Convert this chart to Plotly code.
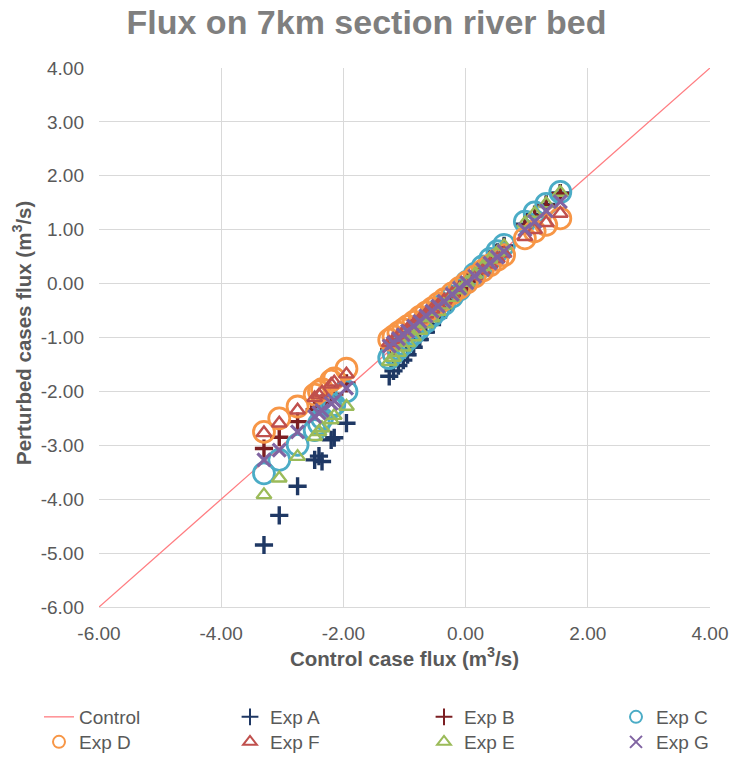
import plotly.graph_objects as go

# Control-case flux on the 7 km river-bed section (m3/s), shared by every experiment
control_x = [
    -3.30, -3.05, -2.75, -2.47, -2.40, -2.35, -2.20, -2.15, -1.95,
    -1.25, -1.18, -1.10, -1.02, -0.95, -0.85, -0.75, -0.65, -0.55, -0.45,
    -0.35, -0.22, -0.10, 0.02, 0.15, 0.28, 0.40, 0.52, 0.63,
    0.97, 1.13, 1.32, 1.55,
]

# Perturbed-case flux for each experiment (m3/s)
exp_a = [
    -4.85, -4.30, -3.76, -3.27, -3.20, -3.30, -2.90, -2.86, -2.59,
    -1.72, -1.62, -1.52, -1.42, -1.32, -1.18, -1.04, -0.90, -0.76, -0.62,
    -0.48, -0.30, -0.14, 0.02, 0.18, 0.32, 0.45, 0.58, 0.70,
    1.10, 1.28, 1.47, 1.68,
]
exp_b = [
    -3.06, -2.85, -2.56, -2.34, -2.28, -2.22, -2.10, -2.05, -1.85,
    -1.22, -1.15, -1.07, -0.99, -0.92, -0.83, -0.73, -0.63, -0.54, -0.44,
    -0.34, -0.22, -0.10, 0.02, 0.16, 0.29, 0.42, 0.55, 0.67,
    1.08, 1.26, 1.45, 1.67,
]
exp_c = [
    -3.52, -3.27, -2.99, -2.72, -2.60, -2.50, -2.30, -2.25, -2.00,
    -1.38, -1.30, -1.21, -1.12, -1.04, -0.93, -0.82, -0.71, -0.60, -0.49,
    -0.38, -0.24, -0.11, 0.03, 0.18, 0.32, 0.46, 0.60, 0.72,
    1.15, 1.32, 1.48, 1.70,
]
exp_d = [
    -2.75, -2.50, -2.28, -2.06, -2.00, -1.96, -1.80, -1.76, -1.58,
    -1.04, -0.98, -0.91, -0.85, -0.79, -0.71, -0.62, -0.54, -0.46, -0.37,
    -0.29, -0.18, -0.08, 0.02, 0.13, 0.24, 0.34, 0.44, 0.53,
    0.84, 0.97, 1.09, 1.21,
]
exp_f = [
    -2.77, -2.59, -2.35, -2.12, -2.07, -2.02, -1.87, -1.83, -1.68,
    -1.10, -1.04, -0.97, -0.90, -0.84, -0.75, -0.66, -0.57, -0.48, -0.40,
    -0.31, -0.19, -0.09, 0.02, 0.14, 0.25, 0.36, 0.46, 0.56,
    0.87, 1.00, 1.13, 1.30,
]
exp_e = [
    -3.92, -3.61, -3.21, -2.84, -2.75, -2.68, -2.53, -2.45, -2.28,
    -1.45, -1.37, -1.28, -1.18, -1.10, -0.99, -0.87, -0.75, -0.64, -0.52,
    -0.40, -0.26, -0.12, 0.02, 0.17, 0.31, 0.45, 0.58, 0.70,
    1.12, 1.30, 1.48, 1.69,
]
exp_g = [
    -3.27, -3.09, -2.75, -2.47, -2.40, -2.35, -2.22, -2.17, -1.94,
    -1.16, -1.10, -1.02, -0.95, -0.88, -0.79, -0.70, -0.60, -0.51, -0.42,
    -0.33, -0.20, -0.09, 0.02, 0.14, 0.26, 0.38, 0.49, 0.60,
    1.00, 1.15, 1.35, 1.52,
]

# 1:1 reference line
line_x = [-6.0, 4.0]
line_y = [-6.0, 4.0]

# Axis ticks
x_ticks = [-6, -4, -2, 0, 2, 4]
x_tick_text = ["-6.00", "-4.00", "-2.00", "0.00", "2.00", "4.00"]
y_ticks = [-6, -5, -4, -3, -2, -1, 0, 1, 2, 3, 4]
y_tick_text = ["-6.00", "-5.00", "-4.00", "-3.00", "-2.00", "-1.00",
               "0.00", "1.00", "2.00", "3.00", "4.00"]

FONT = "Liberation Sans, Arial, sans-serif"
TEXT_GREY = "#595959"
GRID = "#D9D9D9"
W, H = 733, 759
MARGIN = dict(l=99, r=23, t=68, b=152)

# name, values, symbol, size, line width, colour, legend slot (column, row)
series = [
    ("Exp A", exp_a, "cross-thin-open", 13, 3.4, "#1F3864", (1, 0)),
    ("Exp B", exp_b, "cross-thin-open", 13, 3.4, "#7B1E22", (2, 0)),
    ("Exp C", exp_c, "circle-open", 21, 2.8, "#4BACC6", (3, 0)),
    ("Exp D", exp_d, "circle-open", 21, 2.8, "#F79646", (0, 1)),
    ("Exp F", exp_f, "triangle-up-open", 13, 2.4, "#C0504D", (1, 1)),
    ("Exp E", exp_e, "triangle-up-open", 13, 2.4, "#9BBB59", (2, 1)),
    ("Exp G", exp_g, "x-thin-open", 13, 3.2, "#8064A2", (3, 1)),
]

# Legend grid: 4 columns x 2 rows below the chart (pixel positions of the entry text)
legend_text_x = [79, 270, 464, 656]
legend_row_y = [717, 742]


def legend_box(col, row, sizing):
    return dict(
        xref="container", yref="container",
        x=(legend_text_x[col] - 40) / W, xanchor="left",
        y=1 - legend_row_y[row] / H, yanchor="middle",
        bgcolor="rgba(0,0,0,0)", borderwidth=0,
        itemsizing=sizing,
        font=dict(family=FONT, size=19, color=TEXT_GREY),
    )


fig = go.Figure()
fig.add_trace(go.Scatter(
    x=line_x, y=line_y, mode="lines", name="Control",
    line=dict(color="#FF7C80", width=1.3), legend="legend",
))
legend_layout = {"legend": legend_box(0, 0, "trace")}
for i, (name, ys, symbol, size, lw, color, (col, row)) in enumerate(series):
    key = f"legend{i + 2}"
    fig.add_trace(go.Scatter(
        x=control_x, y=ys, mode="markers", name=name, legend=key,
        marker=dict(symbol=symbol, size=size, color=color,
                    line=dict(color=color, width=lw)),
    ))
    legend_layout[key] = legend_box(col, row, "constant")

# Vertical axis title, placed 22 px from the left edge of the figure
plot_w = W - MARGIN["l"] - MARGIN["r"]
plot_h = H - MARGIN["t"] - MARGIN["b"]
fig.add_annotation(
    text="<b>Perturbed cases flux (m<sup>3</sup>/s)</b>",
    xref="paper", yref="paper",
    x=(22 - MARGIN["l"]) / plot_w, y=(H - MARGIN["b"] - 333) / plot_h,
    xanchor="center", yanchor="middle", textangle=-90, showarrow=False,
    font=dict(family=FONT, size=20.5, color=TEXT_GREY),
)

fig.update_layout(
    width=W, height=H,
    margin=dict(**MARGIN, autoexpand=False),
    paper_bgcolor="white", plot_bgcolor="white",
    font=dict(family=FONT, color=TEXT_GREY, size=19),
    title=dict(text="<b>Flux on 7km section river bed</b>",
               x=0.5, xanchor="center", y=0.971, yanchor="middle",
               font=dict(family=FONT, size=34, color="#7F7F7F")),
    showlegend=True,
    **legend_layout,
)

fig.update_xaxes(
    range=[-6, 4], tickvals=x_ticks, ticktext=x_tick_text,
    showgrid=True, gridcolor=GRID, gridwidth=1, zeroline=False,
    showline=True, linecolor=GRID, linewidth=1, automargin=False,
    ticks="", ticklabelstandoff=9, tickfont=dict(size=19, color=TEXT_GREY),
    title=dict(text="<b>Control case flux (m<sup>3</sup>/s)</b>",
               font=dict(size=20.5, color=TEXT_GREY), standoff=8),
)
fig.update_yaxes(
    range=[-6, 4], tickvals=y_ticks, ticktext=y_tick_text,
    showgrid=True, gridcolor=GRID, gridwidth=1, zeroline=False,
    showline=False, automargin=False,
    ticks="", ticklabelstandoff=14, tickfont=dict(size=19, color=TEXT_GREY),
)

fig.write_html("out.html")
